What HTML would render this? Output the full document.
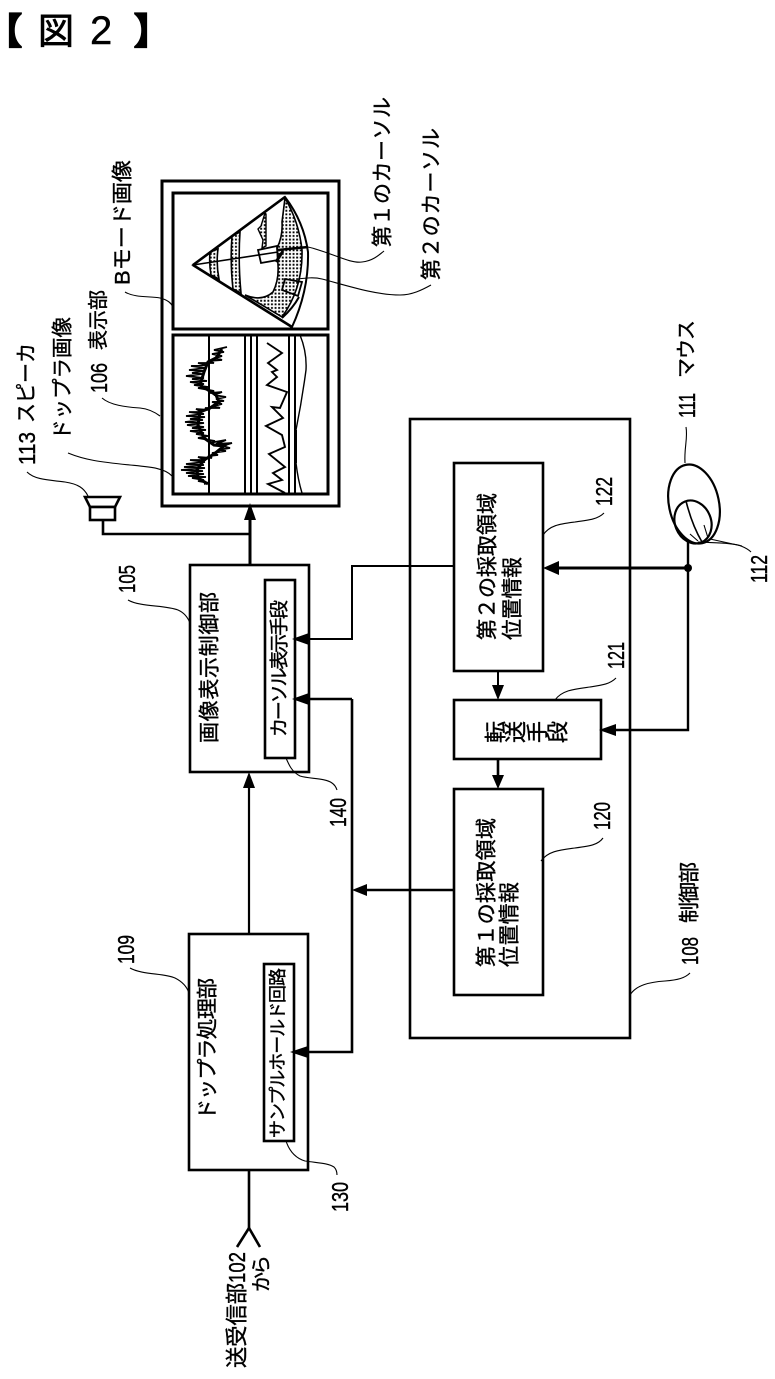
<!DOCTYPE html>
<html lang="ja">
<head>
<meta charset="utf-8">
<style>
html,body{margin:0;padding:0;background:#fff}
svg{display:block}
text{font-family:"Liberation Sans","Noto Sans CJK JP",sans-serif;fill:#000;dominant-baseline:central;stroke:#000;stroke-width:.4}
.b{fill:#fff;stroke:#000;stroke-width:2.6}
.l{fill:none;stroke:#000;stroke-width:2.6}
.t{fill:none;stroke:#000;stroke-width:1.1}
</style>
</head>
<body>
<svg width="775" height="1379" viewBox="0 0 775 1379" xmlns="http://www.w3.org/2000/svg">
<defs>
<pattern id="d" width="3.6" height="3.6" patternUnits="userSpaceOnUse"><rect width="3.6" height="3.6" fill="#fff"/><rect x="1" y="1" width="1.9" height="1.9" fill="#000"/></pattern>
</defs>
<rect width="775" height="1379" fill="#fff"/>

<!-- header -->
<text x="-14" y="31" font-size="36" style="stroke-width:2.2">【</text>
<text x="38" y="31" font-size="36" style="stroke-width:.8">図</text>
<text x="90" y="31" font-size="40">2</text>
<text x="134" y="31" font-size="36" style="stroke-width:2.2">】</text>

<!-- display -->
<rect class="b" x="162" y="181" width="177" height="325" style="stroke-width:3"/>
<rect class="b" x="173" y="193" width="155" height="136" style="stroke-width:3"/>
<rect class="b" x="173" y="335" width="155" height="159" style="stroke-width:3"/>

<!-- fan -->
<path d="M285,198 Q299,222 302,250 Q303,288 282,317 L245,295 Q262,302 273,292 Q279,280 278,265 L277,248 Q283,236 282,222 Z" fill="url(#d)" stroke="#000" stroke-width="1.6"/>
<path d="M232,236 L240,232 Q238,262 241,293 L233,289 Q230,262 232,236 Z" fill="url(#d)" stroke="#000" stroke-width="1.6"/>
<path d="M210,252 L218,249 Q216,264 219,279 L211,275 Q209,264 210,252 Z" fill="url(#d)" stroke="#000" stroke-width="1.6"/>
<path d="M265,213 L261,226 L258,229 L263,240 L262,248 L266,246 L266,214 Z" fill="url(#d)" stroke="#000" stroke-width="1.4"/>
<path d="M193,265 L285,197 Q304,222 308,252 Q309,290 292,327 Z" fill="none" stroke="#000" stroke-width="2"/>
<path d="M193,265 L285,197" fill="none" stroke="#000" stroke-width="2.6"/>
<path d="M193,265 L292,327" fill="none" stroke="#000" stroke-width="2.6"/>
<path d="M282,318 Q293,308 299,297" fill="none" stroke="#000" stroke-width="2"/>
<path d="M193,265 L278,252" fill="none" stroke="#000" stroke-width="1.6"/>
<path d="M278,250 L308,247" fill="none" stroke="#000" stroke-width="2.6"/>
<path d="M258,250 L277,246 L278,260 L261,263 Z" fill="none" stroke="#000" stroke-width="1.8"/>
<path d="M276,262 L283,251" stroke="#000" stroke-width="3" fill="none"/>
<path d="M285,279 L302,282 L298,296 L282,290 Z" fill="none" stroke="#000" stroke-width="1.8"/>
<path d="M308,247 C330,252 350,264 362,262 C372,261 378,256 384,251" class="t"/>
<path d="M298,279 C306,278 314,277 322,279 C345,285 375,295 400,295 C412,295 422,290 431,285" class="t"/>

<!-- doppler image -->
<path d="M209,335 V494 M245,335 V494 M251,335 V494 M257,335 V494 M289,335 V494 M295,335 V494" class="l" style="stroke-width:2"/>
<path d="M267,343 L282,353 L268,363 L277,370 L272,372 L277,377 L267,385 L287,392 L280,408 L272,407 L283,418 L266,426 L282,435 L285,447 L269,454 L285,467 L273,473 L282,480 L268,484 L285,493" fill="none" stroke="#000" stroke-width="1.9"/>
<path d="M300,335 Q307,352 306,370 Q302,400 296,430 L296,463 Q298,480 302,493" fill="none" stroke="#000" stroke-width="1.4"/>
<path d="M296,430 V463" stroke="#000" stroke-width="2"/>
<polyline fill="none" stroke="#000" stroke-width="1.8" stroke-linejoin="bevel" points="227,347 214,350 224,352 212,354 222,356 216,358 222,360 208,361 214,363 198,363 206,365 191,366 206,368 189,370 204,371 192,373 202,374 186,376 204,378 192,379 207,381 190,382 204,384 194,385 208,387 198,388 209,390 214,391 210,393 222,392 214,395 226,397 216,399 224,401 212,402 222,404 214,406 220,408 205,408 210,410 196,409 202,412 189,412 204,414 186,416 205,417 190,419 203,420 185,422 204,423 187,425 204,427 192,428 206,430 190,431 204,433 196,434 208,436 198,438 209,440 215,441 209,443 226,440 216,444 232,443 222,446 230,448 218,450 226,451 212,453 218,455 208,456 212,458 198,457 206,460 190,460 205,462 186,464 204,465 184,467 205,468 181,470 203,471 186,473 204,474 188,476 206,477 192,478 204,480 198,481 209,483 204,484"/>
<polyline fill="none" stroke="#000" stroke-width="3" points="222,349 216,358 208,362 204,372 200,385 208,390 216,395 219,402 210,408 200,412 198,425 204,438 214,445 224,446 214,454 204,460 197,470 198,478 208,484"/>

<!-- speaker -->
<path d="M85,497 H120 L115,507 H90 Z" class="b"/>
<rect class="b" x="90" y="507" width="25" height="13"/>
<path d="M103,520 V534 H250" class="l"/>
<!-- 105 -> display -->
<path d="M250,565 V518" class="l" style="stroke-width:3"/>
<path d="M250,503 L244,520 H256 Z"/>

<!-- image control -->
<rect class="b" x="190" y="565" width="119" height="207"/>
<rect class="b" x="265" y="580" width="30" height="178"/>
<!-- doppler proc -->
<rect class="b" x="189" y="934" width="119" height="236"/>
<rect class="b" x="264" y="964" width="30" height="177"/>

<!-- control -->
<rect class="b" x="410" y="419" width="220" height="619"/>
<rect class="b" x="454" y="463" width="89" height="208"/>
<rect class="b" x="454" y="700" width="147" height="59"/>
<rect class="b" x="454" y="789" width="89" height="206"/>

<!-- connectors -->
<path d="M249,934 V788" class="l" style="stroke-width:2.2"/>
<path d="M249,772 L243,788 H255 Z"/>
<path d="M249,1170 V1228" class="l"/>
<path d="M237,1247 L249,1228 L260,1247" class="l"/>

<path d="M454,566 H352 V639 H305" class="l" style="stroke-width:2"/>
<path d="M292,639 L309,633 V645 Z"/>
<path d="M454,890 H362" class="l"/>
<path d="M352,890 L367,884 V896 Z"/>
<path d="M352,699 V1052 H305 M352,699 H305" class="l"/>
<path d="M292,699 L309,693 V705 Z"/>
<path d="M290,1052 L308,1046 V1058 Z"/>

<path d="M688,542 V730 H612" class="l" style="stroke-width:2.4"/>
<path d="M688,568 H555" class="l" style="stroke-width:3"/>
<path d="M543,568 L559,561 V575 Z"/>
<path d="M599,730 L616,724 V736 Z"/>
<circle cx="688" cy="568" r="4"/>
<path d="M498,671 V688" class="l" style="stroke-width:2"/>
<path d="M498,700 L492,685 H504 Z"/>
<path d="M498,759 V778" class="l"/>
<path d="M498,789 L492,775 H504 Z"/>

<!-- mouse -->
<ellipse cx="694" cy="504" rx="25" ry="40" transform="rotate(-12 694 504)" fill="#fff" stroke="#000" stroke-width="2.2"/>
<ellipse cx="693" cy="522" rx="18" ry="22" transform="rotate(-22 693 522)" fill="none" stroke="#000" stroke-width="2.2"/>
<path d="M686,501 Q692,525 702,542" class="t" style="stroke-width:1.6"/>
<path d="M690,534 L698,541 M704,525 L708,538" class="t"/>
<path d="M698,542 C715,543 735,543 741,546 C746,548 749,550 751,552" class="t"/>
<path d="M710,539 L742,546" class="t"/>
<path d="M686,427 C688,438 684,448 685,463" class="t"/>

<!-- leaders -->
<path d="M68,453 C85,460 100,462 130,465 C150,467 165,468 172,476" class="t"/>
<path d="M102,398 C110,405 125,407 140,408 C150,409 156,413 160,416" class="t"/>
<path d="M125,292 C135,298 150,296 160,298 C168,300 171,303 173,307" class="t"/>
<path d="M27,472 C35,480 50,480 65,482 C78,484 84,488 88,496" class="t"/>
<path d="M128,600 C140,607 165,605 178,610 C185,613 188,618 190,623" class="t"/>
<path d="M130,968 C142,975 165,973 175,978 C183,982 187,987 189,993" class="t"/>
<path d="M286,758 C289,765 292,772 300,776 C310,779 325,778 332,783 C335,785 336,787 337,790" class="t"/>
<path d="M286,1141 C289,1150 295,1158 305,1161 C318,1163 328,1163 334,1167 C336,1169 337,1171 337,1175" class="t"/>
<path d="M543,535 C550,525 560,524 575,522 C590,520 598,519 604,513" class="t"/>
<path d="M555,700 C562,690 575,689 590,687 C603,685 610,684 616,678" class="t"/>
<path d="M541,861 C548,851 560,850 575,848 C590,846 598,845 603,838" class="t"/>
<path d="M630,995 C636,985 650,982 665,981 C678,980 685,978 690,973" class="t"/>

<!-- rotated labels -->
<text transform="translate(383,247) rotate(-90)" font-size="21" textLength="150">第１のカーソル</text>
<text transform="translate(432,280) rotate(-90)" font-size="21" textLength="152">第２のカーソル</text>
<text transform="translate(123,285) rotate(-90)" font-size="21" textLength="125" lengthAdjust="spacingAndGlyphs">Bモード画像</text>
<text transform="translate(99,393) rotate(-90)" font-size="23" textLength="30" lengthAdjust="spacingAndGlyphs">106</text>
<text transform="translate(99,350) rotate(-90)" font-size="20" textLength="60">表示部</text>
<text transform="translate(63,440) rotate(-90)" font-size="21" textLength="123" lengthAdjust="spacingAndGlyphs">ドップラ画像</text>
<text transform="translate(27,465) rotate(-90)" font-size="23" textLength="33" lengthAdjust="spacingAndGlyphs">113</text>
<text transform="translate(27,423) rotate(-90)" font-size="21" textLength="80" lengthAdjust="spacingAndGlyphs">スピーカ</text>
<text transform="translate(127,593) rotate(-90)" font-size="23" textLength="28" lengthAdjust="spacingAndGlyphs">105</text>
<text transform="translate(126,964) rotate(-90)" font-size="23" textLength="29" lengthAdjust="spacingAndGlyphs">109</text>
<text transform="translate(210,743) rotate(-90)" font-size="21" textLength="151">画像表示制御部</text>
<text transform="translate(280,737) rotate(-90)" font-size="19" textLength="137">カーソル表示手段</text>
<text transform="translate(208,1120) rotate(-90)" font-size="21" textLength="142">ドップラ処理部</text>
<text transform="translate(278,1138) rotate(-90)" font-size="18" textLength="170">サンプルホールド回路</text>
<text transform="translate(338,827) rotate(-90)" font-size="23" textLength="29" lengthAdjust="spacingAndGlyphs">140</text>
<text transform="translate(340,1212) rotate(-90)" font-size="23" textLength="30" lengthAdjust="spacingAndGlyphs">130</text>
<text transform="translate(237,1368) rotate(-90)" font-size="22" textLength="85" lengthAdjust="spacingAndGlyphs">送受信部</text>
<text transform="translate(237,1283) rotate(-90)" font-size="23" textLength="31" lengthAdjust="spacingAndGlyphs">102</text>
<text transform="translate(262,1292) rotate(-90)" font-size="20" textLength="37">から</text>

<text transform="translate(488,640) rotate(-90)" font-size="21" textLength="147">第２の採取領域</text>
<text transform="translate(513,640) rotate(-90)" font-size="21" textLength="83">位置情報</text>
<text transform="translate(487,967) rotate(-90)" font-size="21" textLength="149">第１の採取領域</text>
<text transform="translate(510,967) rotate(-90)" font-size="21" textLength="85">位置情報</text>
<text transform="translate(496,732) rotate(-90)" font-size="22" text-anchor="middle">転</text>
<text transform="translate(516,732) rotate(-90)" font-size="22" text-anchor="middle">送</text>
<text transform="translate(538,732) rotate(-90)" font-size="22" text-anchor="middle">手</text>
<text transform="translate(558,732) rotate(-90)" font-size="22" text-anchor="middle">段</text>

<text transform="translate(604,506) rotate(-90)" font-size="23" textLength="29" lengthAdjust="spacingAndGlyphs">122</text>
<text transform="translate(616,669) rotate(-90)" font-size="23" textLength="27" lengthAdjust="spacingAndGlyphs">121</text>
<text transform="translate(602,830) rotate(-90)" font-size="23" textLength="28" lengthAdjust="spacingAndGlyphs">120</text>
<text transform="translate(690,965) rotate(-90)" font-size="23" textLength="28" lengthAdjust="spacingAndGlyphs">108</text>
<text transform="translate(690,923) rotate(-90)" font-size="21" textLength="61">制御部</text>
<text transform="translate(687,418) rotate(-90)" font-size="23" textLength="25" lengthAdjust="spacingAndGlyphs">111</text>
<text transform="translate(687,378) rotate(-90)" font-size="20" textLength="58">マウス</text>
<text transform="translate(759,583) rotate(-90)" font-size="23" textLength="28" lengthAdjust="spacingAndGlyphs">112</text>
</svg>
</body>
</html>
